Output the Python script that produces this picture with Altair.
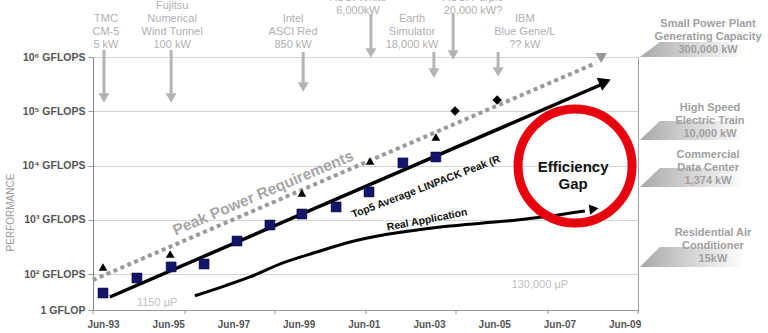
import altair as alt
import pandas as pd

FONT = "Liberation Sans, Arial, DejaVu Sans, sans-serif"

# ---------------- data ----------------
# Top5 average LINPACK measurements (navy squares)
sq_year = [1993.5, 1994.54, 1995.59, 1996.6, 1997.61, 1998.62, 1999.6, 2000.65, 2001.66, 2002.7, 2003.71]
sq_gflops = [45, 85, 136, 154, 408, 805, 1285, 1730, 3270, 11200, 14400]
# peak machines (black triangles)
tri_year = [1993.5, 1995.56, 1999.6, 2001.69, 2003.71]
tri_gflops = [136, 236, 3130, 12200, 33700]
# projected machines (black diamonds)
dia_year = [2004.3, 2005.59]
dia_gflops = [101000, 162000]
# trend lines
peak_year = [1993.19, 2008.62]
peak_gflops = [78, 774000]
top5_year = [1993.71, 2008.93]
top5_gflops = [38, 339000]
real_year = [1996.32, 1997.24, 1998.01, 1999.02, 2000.06, 2001.08, 2002.09, 2003.13, 2004.14, 2005.16, 2006.2, 2007.21, 2008.28]
real_gflops = [40, 61, 89, 161, 256, 392, 527, 652, 773, 877, 995, 1180, 1460]
# arrow heads at line ends
head_year = [2008.78, 2008.9, 2008.56]
head_gflops = [959000, 347000, 1590]

# machine annotations above the chart (anchored at the top of the first line)
ann_label = ["TMC\nCM-5\n5 kW", "Fujitsu\nNumerical\nWind Tunnel\n100 kW", "Intel\nASCI Red\n850 kW",
             "ASCI White\n6,000kW", "Earth\nSimulator\n18,000 kW", "ASCI Purple\n20,000 kW?",
             "IBM\nBlue Gene/L\n?? kW"]
ann_year = [1993.59, 1995.62, 1999.33, 2001.32, 2002.98, 2004.85, 2006.44]
ann_gflops = [6460000, 11220000, 6460000, 16000000, 6460000, 16000000, 6460000]
arrow_year = [1993.53, 1995.59, 1999.64, 2001.72, 2003.65, 2004.24, 2005.62]
arrow_top = [1350000, 1350000, 1240000, 6200000, 1240000, 6200000, 1240000]
arrow_head = [176000, 176000, 280000, 1185000, 507000, 1089000, 530000]

# power references on the right
pow_label = ["Small Power Plant\nGenerating Capacity\n300,000 kW", "High Speed\nElectric Train\n10,000 kW",
             "Commercial\nData Center\n1,374 kW", "Residential Air\nConditioner\n15kW"]
pow_year = [2012.06, 2012.12, 2012.06, 2012.21]
pow_gflops = [5220000, 148300, 20230, 739]
wedge_bottom = [1000000, 29600, 4040, 136]
wedge_top = [1890000, 66200, 9040, 317]
wedge_x = [2009.97, 2010.58, 2014.0]

x_ticks = [1993.193, 1996.015, 1998.776, 2001.567, 2004.328, 2007.15, 2009.911]
x_labels = [1993.5, 1995.5, 1997.5, 1999.5, 2001.5, 2003.5, 2005.5, 2007.5, 2009.5]
y_ticks = [21.9, 100, 1000, 10000, 100000, 1000000]

# ---------------- scales / axes ----------------
xs = alt.Scale(domain=[1993.193, 2009.911], nice=False, zero=False)
ys = alt.Scale(type="log", domain=[21.9, 1000000], nice=False)

xaxis = alt.Axis(values=x_labels, title=None, grid=False, ticks=False,
                 labelExpr="'Jun-' + substring(toString(floor(datum.value)), 2, 4)",
                 labelFont=FONT, labelFontSize=10, labelFontWeight="bold", labelColor="#555555",
                 labelPadding=9, domainColor="#999999", labelFlush=False, labelOverlap=False)
yaxis = alt.Axis(values=y_ticks, title="PERFORMANCE", titleX=-83, titleY=155, titleAngle=270,
                 titleAlign="center", titleBaseline="middle",
                 titleFont=FONT, titleFontSize=10, titleFontWeight="normal", titleColor="#999999",
                 labelExpr="datum.value < 50 ? '1 GFLOP' : datum.value < 500 ? '10² GFLOPS' : datum.value < 5000 ? '10³ GFLOPS' : datum.value < 50000 ? '10⁴ GFLOPS' : datum.value < 500000 ? '10⁵ GFLOPS' : '10⁶ GFLOPS'",
                 labelFont=FONT, labelFontSize=10.5, labelFontWeight="bold", labelColor="#555555",
                 labelPadding=3, tickSize=5, tickColor="#999999", domainColor="#888888",
                 grid=True, gridColor="#d4d4d4", labelOverlap=False, labelFlush=False)

X = alt.X("year:Q", scale=xs, axis=xaxis)
Y = alt.Y("g:Q", scale=ys, axis=yaxis)

def df(**cols):
    return pd.DataFrame(cols)

# wedges (gradient shapes behind the right labels)
wrows = []
for i in range(4):
    wrows.append({"w": i, "year": wedge_x[0], "g": wedge_bottom[i], "g2": wedge_bottom[i]})
    wrows.append({"w": i, "year": wedge_x[1], "g": wedge_top[i], "g2": wedge_bottom[i]})
    wrows.append({"w": i, "year": wedge_x[2], "g": wedge_top[i], "g2": wedge_bottom[i]})
grad = alt.Gradient(gradient="linear", x1=0, x2=1, y1=0, y2=0,
                    stops=[alt.GradientStop(color="#a8a8a8", offset=0),
                           alt.GradientStop(color="#d0d0d0", offset=0.35),
                           alt.GradientStop(color="#ffffff", offset=0.8)])
wedges = alt.Chart(pd.DataFrame(wrows)).mark_area(color=grad).encode(
    x=X, y=Y, y2="g2:Q", detail="w:N")

xtick = alt.Chart(df(year=x_ticks, g=[21.9] * 7, g2=[18.5] * 7)).mark_rule(
    color="#999999", strokeWidth=1).encode(x=X, y=Y, y2="g2:Q")

shafts = alt.Chart(df(year=arrow_year, g=arrow_top, g2=arrow_head)).mark_rule(
    color="#b4b4b4", strokeWidth=3).encode(x=X, y=Y, y2="g2:Q")
heads = alt.Chart(df(year=arrow_year, g=arrow_head)).mark_point(
    shape="triangle-down", filled=True, size=120, color="#b4b4b4", opacity=1).encode(x=X, y=Y)

ann = alt.Chart(df(year=ann_year, g=ann_gflops, t=ann_label)).mark_text(
    lineBreak="\n", font=FONT, fontSize=11, lineHeight=13, color="#b0b0b0",
    align="center", baseline="top").encode(x=X, y=Y, text="t:N")
pw = alt.Chart(df(year=pow_year, g=pow_gflops, t=pow_label)).mark_text(
    lineBreak="\n", font=FONT, fontSize=11, fontWeight="bold", lineHeight=13, color="#a0a0a0",
    align="center", baseline="top").encode(x=X, y=Y, text="t:N")

peak = alt.Chart(df(year=peak_year, g=peak_gflops)).mark_line(
    color="#999999", strokeWidth=4, strokeDash=[4, 3.5], strokeCap="butt").encode(x=X, y=Y)
top5 = alt.Chart(df(year=top5_year, g=top5_gflops)).mark_line(
    color="#000000", strokeWidth=3.5).encode(x=X, y=Y)
real = alt.Chart(df(year=real_year, g=real_gflops)).mark_line(
    color="#000000", strokeWidth=3, interpolate="monotone").encode(x=X, y=Y)

peak_head = alt.Chart(df(year=head_year[:1], g=head_gflops[:1])).mark_point(
    shape="triangle-down", filled=True, size=130, color="#999999", opacity=1).encode(x=X, y=Y)
top5_head = alt.Chart(df(year=head_year[1:2], g=head_gflops[1:2])).mark_point(
    shape="triangle-right", filled=True, size=200, color="#000000", opacity=1, angle=337).encode(x=X, y=Y)
real_head = alt.Chart(df(year=head_year[2:], g=head_gflops[2:])).mark_point(
    shape="triangle-right", filled=True, size=110, color="#000000", opacity=1, angle=352).encode(x=X, y=Y)

squares = alt.Chart(df(year=sq_year, g=sq_gflops)).mark_point(
    shape="square", filled=True, size=100, color="#14146a", stroke="#000022", strokeWidth=0.5,
    opacity=1).encode(x=X, y=Y)
tris = alt.Chart(df(year=tri_year, g=tri_gflops)).mark_point(
    shape="triangle-up", filled=True, size=75, color="#000000", opacity=1).encode(x=X, y=Y)
dias = alt.Chart(df(year=dia_year, g=dia_gflops)).mark_point(
    shape="diamond", filled=True, size=90, color="#000000", opacity=1).encode(x=X, y=Y)

t_peak = alt.Chart(df(year=[1998.41], g=[3126], t=["Peak Power Requirements"])).mark_text(
    font=FONT, fontSize=15.5, fontWeight="bold", color="#a6a6a6", angle=337,
    align="center", baseline="middle").encode(x=X, y=Y, text="t:N")
t_top5 = alt.Chart(df(year=[2003.41], g=[4040], t=["Top5 Average LINPACK Peak (R"])).mark_text(
    font=FONT, fontSize=10.5, fontWeight="bold", color="#111111", angle=339,
    align="center", baseline="middle").encode(x=X, y=Y, text="t:N")
t_real = alt.Chart(df(year=[2003.44], g=[995], t=["Real Application"])).mark_text(
    font=FONT, fontSize=10.5, fontWeight="bold", color="#111111", angle=349,
    align="center", baseline="middle").encode(x=X, y=Y, text="t:N")
t_up = alt.Chart(df(year=[1995.16, 2006.9], g=[29.5, 63.2], t=["1150 µP", "130,000 µP"])).mark_text(
    font=FONT, fontSize=11, color="#c0c0c0", align="center", baseline="middle").encode(
    x=X, y=Y, text="t:N")

ring = alt.Chart(df(year=[2007.98], g=[9840])).mark_point(
    shape="circle", filled=False, size=13000, color="#e8000e", strokeWidth=9, opacity=1).encode(x=X, y=Y)
t_gap = alt.Chart(df(year=[2007.92], g=[9420], t=["Efficiency\nGap"])).mark_text(
    lineBreak="\n", font=FONT, fontSize=15, fontWeight="bold", lineHeight=17, color="#111111",
    align="center", baseline="middle").encode(x=X, y=Y, text="t:N")

chart = alt.layer(
    wedges, xtick, shafts, heads, ann, pw,
    peak, peak_head, top5, top5_head, real, real_head,
    squares, tris, dias, t_peak, t_top5, t_real, t_up, ring, t_gap
).properties(
    width=545, height=253,
    autosize=alt.AutoSizeParams(type="none"),
    padding={"left": 93, "top": 57, "right": 130, "bottom": 23},
    background="white",
).configure_view(stroke="#a0a0a0", strokeWidth=1)

chart.save("out.html", embed_options={"renderer": "svg", "actions": False})
